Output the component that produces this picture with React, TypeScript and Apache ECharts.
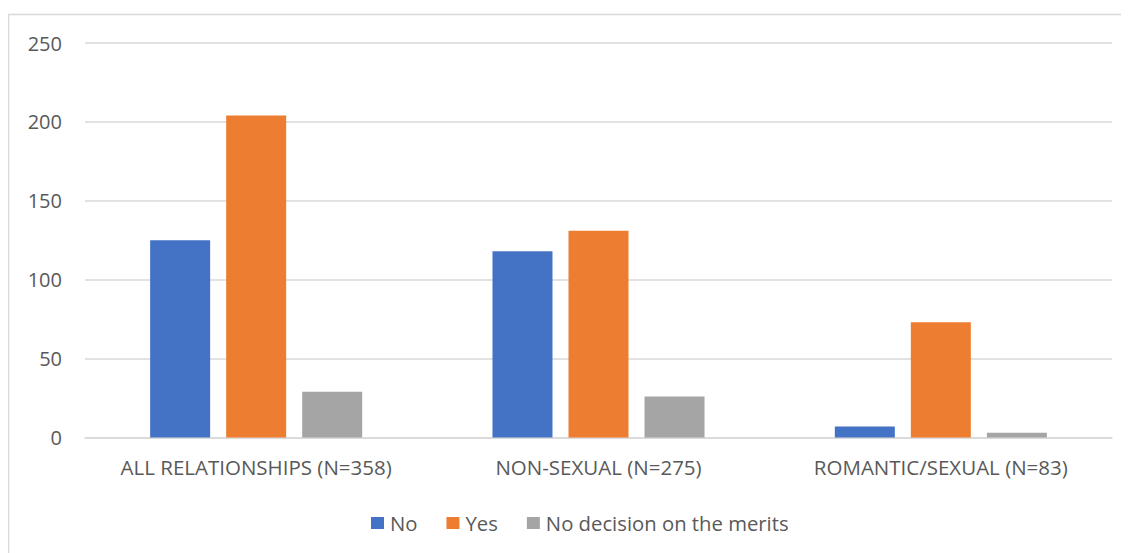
import React, { useEffect, useRef } from "react";
import * as echarts from "echarts";

// Case outcomes by relationship type
const categories = [
  "ALL RELATIONSHIPS (N=358)",
  "NON-SEXUAL (N=275)",
  "ROMANTIC/SEXUAL (N=83)",
];
const noValues = [125, 118, 7];
const yesValues = [204, 131, 73];
const noDecisionValues = [29, 26, 3];
const yTicks = { min: 0, max: 250, interval: 50 };

const FONT = "'Open Sans', 'Noto Sans', sans-serif";
const TEXT = "#595959";
const GRID = "#d9d9d9";

export default function App() {
  const ref = useRef<HTMLDivElement>(null);

  useEffect(() => {
    if (!ref.current) return;
    const chart = echarts.init(ref.current, null, { renderer: "svg" });
    const bar = (name: string, data: number[], color: string) => ({
      name,
      type: "bar",
      data,
      barWidth: 60,
      barGap: "26.7%",
      itemStyle: { color },
    });
    chart.setOption({
      animation: false,
      textStyle: { fontFamily: FONT },
      graphic: [
        {
          type: "polyline",
          shape: { points: [[0.5, 600], [0.5, 6.5], [1200, 6.5]] },
          style: { stroke: GRID, lineWidth: 1.5, fill: "none" },
          silent: true,
        },
      ],
      grid: { left: 77, right: 17, top: 35, bottom: 115.5 },
      legend: {
        left: 358,
        top: 500,
        itemWidth: 13,
        itemHeight: 12,
        itemGap: 29,
        icon: "rect",
        textStyle: { color: TEXT, fontSize: 20.3, fontFamily: FONT, padding: [0, 0, 0, 1] },
        data: ["No", "Yes", "No decision on the merits"],
      },
      xAxis: {
        type: "category",
        data: categories,
        axisLine: { lineStyle: { color: GRID, width: 1.5 } },
        axisTick: { show: false },
        axisLabel: {
          color: TEXT,
          fontSize: 20.5,
          margin: 19,
          fontFamily: FONT,
          interval: 0,
        },
      },
      yAxis: {
        type: "value",
        min: yTicks.min,
        max: yTicks.max,
        interval: yTicks.interval,
        axisLine: { show: false },
        axisTick: { show: false },
        splitLine: { lineStyle: { color: GRID, width: 1.5 } },
        axisLabel: { color: TEXT, fontSize: 20, margin: 23, fontFamily: FONT },
      },
      series: [
        bar("No", noValues, "#4472C4"),
        bar("Yes", yesValues, "#ED7D31"),
        bar("No decision on the merits", noDecisionValues, "#A5A5A5"),
      ],
    });
    return () => chart.dispose();
  }, []);

  return (
    <div
      ref={ref}
      style={{ width: 1121, height: 545, background: "#fff" }}
    />
  );
}
